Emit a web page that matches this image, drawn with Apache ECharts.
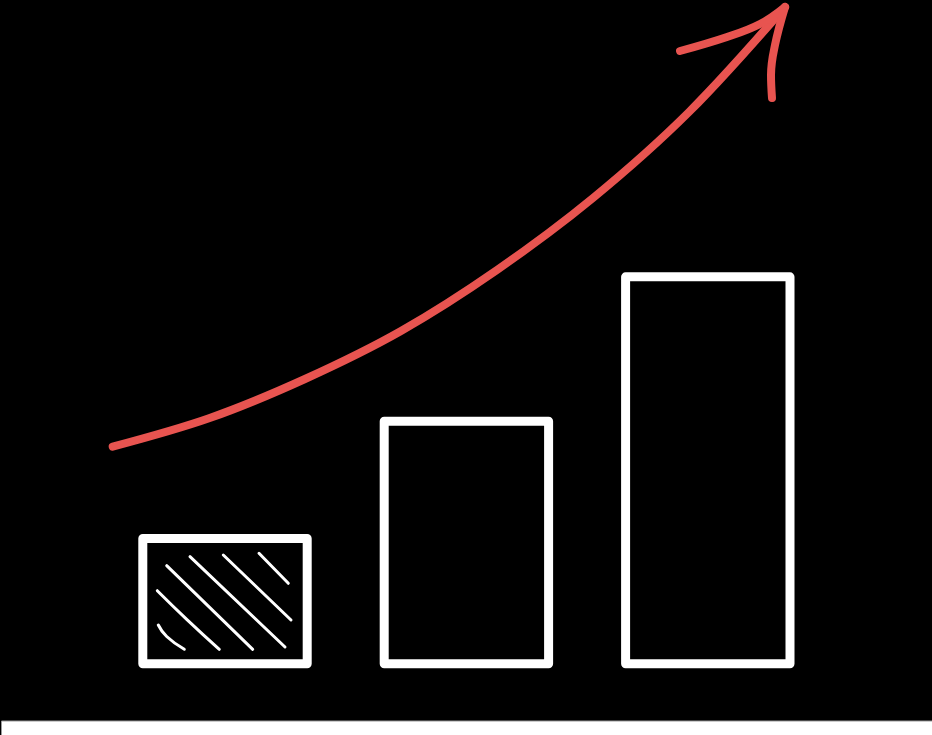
<!DOCTYPE html>
<html>
<head>
<meta charset="utf-8">
<title>Growth bars</title>
<script src="https://cdn.jsdelivr.net/npm/echarts@6/dist/echarts.min.js"></script>
<style>
  html, body { margin: 0; padding: 0; background: #000; }
  #chart { width: 932px; height: 735px; }
</style>
</head>
<body>
<div id="chart"></div>
<script>
// bar categories and heights (0-100 scale)
const categories = ['A', 'B', 'C']
const barValues = [20.1, 37.65, 59.25]

// growth arrow path, in canvas-like units (x 0-932, y 0-735 from top)
const trendCurve = [
  [112.7, 446.7], [209, 418.3], [305, 379], [401, 331],
  [497, 270], [593, 198], [689, 112], [785, 7]
]
const arrowLeftBarb = [[680, 51], [727, 37], [760, 24], [785, 7]]
const arrowRightBarb = [[772, 98], [771, 75], [775, 45], [785, 7]]

// hatch strokes inside the first bar
const hatchLines = [
  [[158.3, 625], [166.7, 636.5], [184.3, 649.3]],
  [[157.3, 590.7], [186.7, 619.3], [219.3, 649.3]],
  [[166.7, 565.7], [252.7, 649.3]],
  [[190, 556.7], [285, 647]],
  [[223.3, 555], [291, 620]],
  [[259, 553.3], [288.3, 583.3]]
]

const RED = '#e85450'

const chart = echarts.init(document.getElementById('chart'))

const overlay = (data, color, width, smooth) => ({
  type: 'line',
  xAxisIndex: 1,
  yAxisIndex: 1,
  data: data,
  smooth: smooth,
  symbol: 'none',
  silent: true,
  lineStyle: { color: color, width: width, cap: 'round', join: 'round' },
  z: 5
})

const option = {
  backgroundColor: '#000',
  animation: false,
  grid: [
    { left: 104.3, right: 103.5, top: 0, bottom: 66.7 },
    { left: 0, right: 0, top: 0, bottom: 0 }
  ],
  xAxis: [
    { type: 'category', gridIndex: 0, data: categories, show: false },
    { type: 'value', gridIndex: 1, min: 0, max: 932, show: false }
  ],
  yAxis: [
    { type: 'value', gridIndex: 0, min: 0, max: 100, show: false },
    { type: 'value', gridIndex: 1, min: 0, max: 735, inverse: true, show: false }
  ],
  graphic: [
    {
      type: 'rect',
      shape: { x: 1.5, y: 721, width: 931, height: 15 },
      style: { fill: '#fff', stroke: '#999', lineWidth: 1 },
      z: 10
    }
  ],
  series: [
    {
      type: 'bar',
      data: barValues,
      barWidth: 173.4,
      silent: true,
      itemStyle: {
        color: '#000',
        borderColor: '#fff',
        borderWidth: 9,
        borderJoin: 'round'
      }
    },
    ...hatchLines.map(l => overlay(l, '#fff', 3, l.length > 2 ? 0.5 : false)),
    overlay(trendCurve, RED, 8, 0.33),
    overlay(arrowLeftBarb, RED, 8, 0.4),
    overlay(arrowRightBarb, RED, 8, 0.4)
  ]
}

chart.setOption(option)
</script>
</body>
</html>
